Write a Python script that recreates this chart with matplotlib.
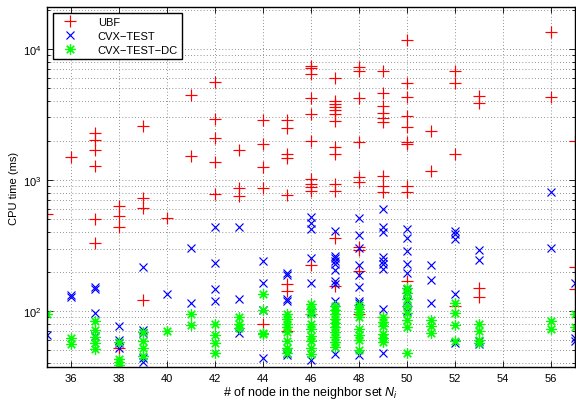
import matplotlib
matplotlib.use("Agg")
import matplotlib.pyplot as plt
from matplotlib.lines import Line2D

plt.rcParams['font.family'] = ['Liberation Sans', 'DejaVu Sans']
plt.rcParams['mathtext.fontset'] = 'custom'
plt.rcParams['mathtext.rm'] = 'Liberation Sans'
plt.rcParams['mathtext.it'] = 'Liberation Sans:italic'

# ---- data: number of nodes in neighbor set -> CPU times (ms) ----
ubf_cols = [35, 36, 37, 38, 39, 40, 41, 42, 43, 44, 45, 46, 47, 48, 49, 50, 51, 52, 53, 56, 57]
ubf_vals = [
    [550],
    [1500],
    [2270, 2020, 1680, 1270, 500, 330],
    [630, 530, 435, 52],
    [2600, 730, 610, 121],
    [510],
    [4460, 1530],
    [5600, 2900, 2100, 1380, 780],
    [1680, 870, 760],
    [2870, 1880, 1250, 865, 80],
    [2880, 2480, 1580, 1460, 765, 160, 143, 70],
    [7400, 7100, 6400, 4200, 3200, 1970, 1020, 930, 880, 820, 225, 95],
    [5970, 4000, 3800, 3600, 3400, 3200, 2800, 1780, 1590, 930, 820, 360, 154],
    [7250, 6760, 4230, 1960, 1050, 960, 310, 290, 203, 95],
    [6830, 4610, 3650, 3250, 2960, 2790, 1080, 905, 815, 90],
    [11800, 5470, 4330, 3060, 2520, 1960, 1880, 905, 815, 170],
    [2380, 1165],
    [6830, 5470, 1580, 109],
    [4400, 3850, 149, 129],
    [13400, 4280],
    [1970, 216, 146],
]

cvx_cols = [35, 36, 37, 38, 39, 40, 41, 42, 43, 44, 45, 46, 47, 48, 49, 50, 51, 52, 53, 56, 57]
cvx_vals = [
    [66],
    [132, 127],
    [152, 148, 96, 65],
    [77, 60, 57, 52],
    [216, 72, 68, 44, 41],
    [135],
    [302, 115],
    [436, 231, 147, 120],
    [436, 123, 68],
    [242, 163, 102, 43.5],
    [196, 188, 124, 119, 48, 46],
    [519, 470, 423, 253, 165, 98, 42],
    [410, 264, 253, 242, 228, 207, 170, 160, 120, 47],
    [513, 380, 305, 225, 189, 153, 120, 115, 46],
    [600, 440, 400, 257, 242, 228, 210, 104, 48],
    [423, 361, 286, 228, 195, 147, 140, 120, 100],
    [225, 172, 115],
    [410, 385, 355, 135, 57],
    [290, 245, 59, 56],
    [805, 304],
    [165, 62, 59],
]

dc_cols = [35, 36, 37, 38, 39, 40, 41, 42, 43, 44, 45, 46, 47, 48, 49, 50, 51, 52, 53, 56, 57]
dc_vals = [
    [95],
    [62, 56],
    [84, 72, 63, 57, 51],
    [58, 43, 41, 39],
    [69, 59, 52, 45],
    [70],
    [95, 78],
    [79, 66, 56.6, 48],
    [90, 80, 74],
    [135, 102, 68, 67],
    [95, 87, 80, 75, 69, 59, 52, 48],
    [113, 104, 95, 79, 73, 64, 59, 52, 47],
    [110, 101, 95, 87, 81, 75, 69, 63, 58, 53],
    [111, 104, 98, 90, 73, 66, 60, 50],
    [90, 83, 77, 67, 62, 58],
    [150, 138, 123, 110, 97, 86, 76, 48],
    [86, 77, 68],
    [115, 96, 78, 59],
    [79, 70, 60, 57],
    [84, 73],
    [95, 75],
]

series_names = ['UBF', 'CVX\u2212TEST', 'CVX\u2212TEST\u2212DC']
x_ticks = [36, 38, 40, 42, 44, 46, 48, 50, 52, 54, 56]


def flatten(cols, vals):
    xs, ys = [], []
    for c, vs in zip(cols, vals):
        for v in vs:
            xs.append(c)
            ys.append(v)
    return xs, ys


fig = plt.figure(figsize=(5.76, 4.02), dpi=100)
ax = fig.add_axes([47 / 576, 34 / 402, 528 / 576, 360 / 402])

grid_kw = dict(color='#303030', linestyle=(0, (1, 3.5)), linewidth=0.5)
ax.set_yscale('log')
ax.set_xlim(35, 57)
ax.set_ylim(37.4, 20900)
ax.set_xticks(x_ticks)
ax.grid(True, which='major', axis='both', **grid_kw)
ax.grid(True, which='minor', axis='y', **grid_kw)
ax.set_axisbelow(True)

ux, uy = flatten(ubf_cols, ubf_vals)
cx, cy = flatten(cvx_cols, cvx_vals)
dx, dy = flatten(dc_cols, dc_vals)

ax.plot(ux, uy, linestyle='none', marker='+', color='red', markersize=8.5,
        markeredgewidth=0.85)
ax.plot(cx, cy, linestyle='none', marker='x', color='blue', markersize=5.5,
        markeredgewidth=0.85)
ax.plot(dx, dy, linestyle='none', marker=(8, 2, 0), color='#00ff00', markersize=7.5,
        markeredgewidth=0.85)

ax.tick_params(which='both', direction='in', top=True, right=True, labelsize=8,
               width=0.6, pad=4)
ax.tick_params(which='major', length=4)
ax.tick_params(which='minor', length=2)
for s in ax.spines.values():
    s.set_linewidth(1.0)

ax.set_xlabel(r'# of node in the neighbor set $N_i$', fontsize=9, labelpad=1)
ax.set_ylabel('CPU time (ms)', fontsize=8, labelpad=3)

handles = [
    Line2D([], [], linestyle='none', marker='+', color='red', markersize=8.5, markeredgewidth=0.85),
    Line2D([], [], linestyle='none', marker='x', color='blue', markersize=5.5, markeredgewidth=0.85),
    Line2D([], [], linestyle='none', marker=(8, 2, 0), color='#00ff00', markersize=7.5, markeredgewidth=0.85),
]
leg = ax.legend(handles, series_names, loc='upper left', bbox_to_anchor=(0.011, 0.983),
                borderaxespad=0, fontsize=8, frameon=True, fancybox=False,
                edgecolor='black', framealpha=1, handlelength=2.4, handletextpad=1.3,
                borderpad=0.35, labelspacing=0.35)
leg.get_frame().set_linewidth(1.0)

fig.savefig('out.png', dpi=100)
